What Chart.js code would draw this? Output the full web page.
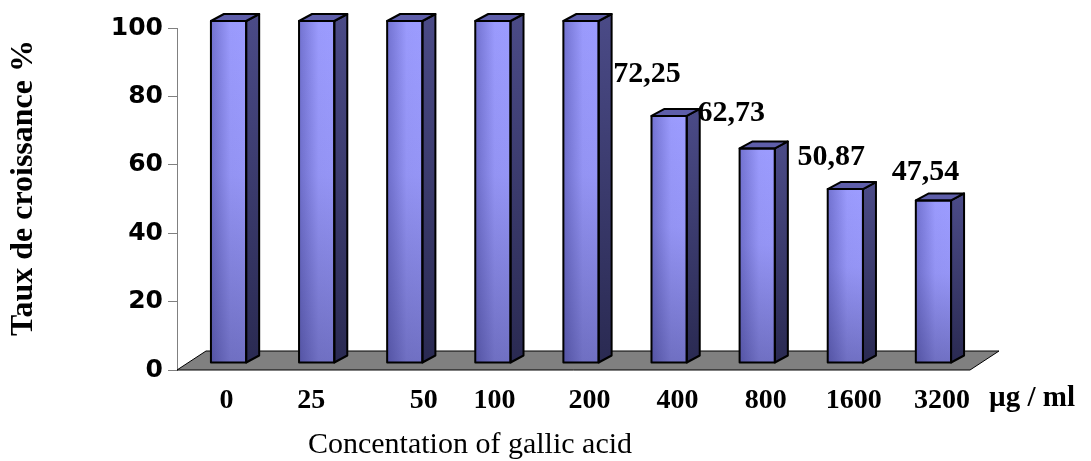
<!DOCTYPE html>
<html>
<head>
<meta charset="utf-8">
<script src="https://cdn.jsdelivr.net/npm/chart.js@4.4.1/dist/chart.umd.min.js"></script>
<style>
  html, body { margin: 0; padding: 0; background: #ffffff; }
  #wrap { width: 1091px; height: 461px; position: relative; }
</style>
</head>
<body>
<div id="wrap"><canvas id="c"></canvas></div>
<script>
// ---- data ----
const categories = ["0", "25", "50", "100", "200", "400", "800", "1600", "3200"];
const growthRate = [100, 100, 100, 100, 100, 72.25, 62.73, 50.87, 47.54];
const yTicks = [0, 20, 40, 60, 80, 100];
const unitLabel = "µg / ml";
const xTitle = "Concentation of gallic acid";
const yTitle = "Taux de croissance %";

// label nudges (in spaces; negative = trailing spaces) to mimic the hand-placed labels
const tickSpaces = [-3, -4, 3, -2, 0, 0, 0, 0, 0];

const serifBold = (s) => ({ family: "'Liberation Serif', 'Times New Roman', serif", size: s, weight: 'bold' });

const bar3d = {
  id: 'bar3d',
  beforeDatasetsDraw(chart, args, o) {
    const { ctx, chartArea } = chart;
    const y0 = chart.scales.y.getPixelForValue(0);
    ctx.save();
    ctx.beginPath();
    ctx.moveTo(chartArea.left, y0);
    ctx.lineTo(chartArea.right, y0);
    ctx.lineTo(chartArea.right + o.floorDx, y0 + o.floorDy);
    ctx.lineTo(chartArea.left + o.floorDx, y0 + o.floorDy);
    ctx.closePath();
    ctx.fillStyle = '#808080';
    ctx.fill();
    ctx.strokeStyle = '#000000';
    ctx.lineWidth = 1;
    ctx.stroke();
    ctx.restore();
    ctx.save();
    ctx.translate(o.shiftX, o.shiftY);
  },
  afterDatasetsDraw(chart, args, o) {
    const { ctx } = chart;
    const meta = chart.getDatasetMeta(0);
    const dx = o.depthX, dy = o.depthY;
    meta.data.forEach((bar) => {
      const { x, y, base, width } = bar.getProps(['x', 'y', 'base', 'width'], true);
      const l = x - width / 2, r = x + width / 2;
      const gh = ctx.createLinearGradient(l, 0, r, 0);
      gh.addColorStop(0, '#7272d0');
      gh.addColorStop(0.55, '#9a9afc');
      gh.addColorStop(1, '#9c9cff');
      ctx.fillStyle = gh;
      ctx.fillRect(l, y, width, base - y);
      const gv = ctx.createLinearGradient(0, y, 0, base);
      gv.addColorStop(0, 'rgba(20,20,70,0)');
      gv.addColorStop(0.45, 'rgba(20,20,70,0.05)');
      gv.addColorStop(1, 'rgba(20,20,70,0.32)');
      ctx.fillStyle = gv;
      ctx.fillRect(l, y, width, base - y);
      ctx.lineJoin = 'round';
      ctx.lineWidth = 2;
      ctx.strokeStyle = '#000000';
      ctx.beginPath();
      ctx.moveTo(r, y);
      ctx.lineTo(r + dx, y + dy);
      ctx.lineTo(r + dx, base + dy);
      ctx.lineTo(r, base);
      ctx.closePath();
      const gs = ctx.createLinearGradient(0, y, 0, base);
      gs.addColorStop(0, '#4a4a86');
      gs.addColorStop(1, '#2a2a52');
      ctx.fillStyle = gs;
      ctx.fill();
      ctx.stroke();
      ctx.beginPath();
      ctx.moveTo(l, y);
      ctx.lineTo(l + dx, y + dy);
      ctx.lineTo(r + dx, y + dy);
      ctx.lineTo(r, y);
      ctx.closePath();
      ctx.fillStyle = '#5e5eaa';
      ctx.fill();
      ctx.stroke();
      ctx.strokeRect(l, y, width, base - y);
    });
    ctx.restore();
  }
};

const textLayer = {
  id: 'textLayer',
  afterDraw(chart, args, o) {
    const { ctx, chartArea } = chart;
    const meta = chart.getDatasetMeta(0);
    ctx.save();
    ctx.fillStyle = '#000000';
    ctx.font = "bold 30px 'Liberation Serif', 'Times New Roman', serif";
    ctx.textAlign = 'center';
    ctx.textBaseline = 'middle';
    meta.data.forEach((bar, i) => {
      const v = growthRate[i];
      if (v >= 100 || !o.offsets[i]) return;
      const txt = v.toFixed(2).replace('.', ',');
      ctx.fillText(txt, bar.x + o.shiftX + o.offsets[i][0], bar.y + o.shiftY + o.offsets[i][1]);
    });
    // unit label beside the x tick labels
    ctx.font = "bold 29px 'Liberation Serif', 'Times New Roman', serif";
    ctx.fillText(unitLabel, chartArea.right + o.unitDx, chartArea.bottom + o.unitDy);
    // x axis title
    ctx.font = "30px 'Liberation Serif', 'Times New Roman', serif";
    ctx.fillText(xTitle, o.xTitleX, chartArea.bottom + o.xTitleDy);
    // y axis title (rotated)
    ctx.translate(o.yTitleX, o.yTitleY);
    ctx.rotate(-Math.PI / 2);
    ctx.font = "bold 32px 'Liberation Serif', 'Times New Roman', serif";
    ctx.fillText(yTitle, 0, 0);
    ctx.restore();
  }
};

new Chart(document.getElementById('c'), {
  type: 'bar',
  data: {
    labels: categories,
    datasets: [{
      data: growthRate,
      backgroundColor: '#9999ff',
      borderColor: '#000000',
      borderWidth: 2,
      borderSkipped: false,
      barPercentage: 0.4,
      categoryPercentage: 1.0,
      clip: false
    }]
  },
  options: {
    responsive: true,
    maintainAspectRatio: false,
    animation: false,
    devicePixelRatio: 1,
    layout: { padding: { top: 28, right: 121, bottom: 0, left: 0 } },
    plugins: {
      legend: { display: false },
      tooltip: { enabled: false },
      bar3d: { floorDx: 29, floorDy: -19, shiftX: 7.5, shiftY: -7, depthX: 13, depthY: -7 },
      textLayer: {
        shiftX: 7.5, shiftY: -7,
        offsets: [null, null, null, null, null, [-22, -42], [-26, -35], [-14, -32], [-8, -28]],
        unitDx: 62, unitDy: 29, xTitleX: 470, xTitleDy: 75,
        yTitleX: 24, yTitleY: 188
      }
    },
    scales: {
      x: {
        grid: { display: false },
        border: { display: false },
        ticks: {
          color: '#000000', font: serifBold(28), padding: 6, maxRotation: 0, autoSkip: false,
          labelOffset: 16,
          callback: (v, i) => {
            const n = tickSpaces[i] || 0;
            const pad = ' '.repeat(Math.abs(n));
            return n < 0 ? categories[i] + pad : pad + categories[i];
          }
        },
        afterFit: (s) => { s.height = 91; }
      },
      y: {
        min: 0, max: 100,
        afterBuildTicks: (s) => { s.ticks = yTicks.map(v => ({ value: v })); },
        grid: { drawOnChartArea: false, drawTicks: true, tickLength: 9, color: '#808080' },
        border: { display: true, color: '#808080', width: 1 },
        ticks: { color: '#000000', padding: 5, font: { family: "'DejaVu Sans', sans-serif", size: 25, weight: 'bold' } },
        afterFit: (s) => { s.width = 177; }
      }
    }
  },
  plugins: [bar3d, textLayer]
});
</script>
</body>
</html>
